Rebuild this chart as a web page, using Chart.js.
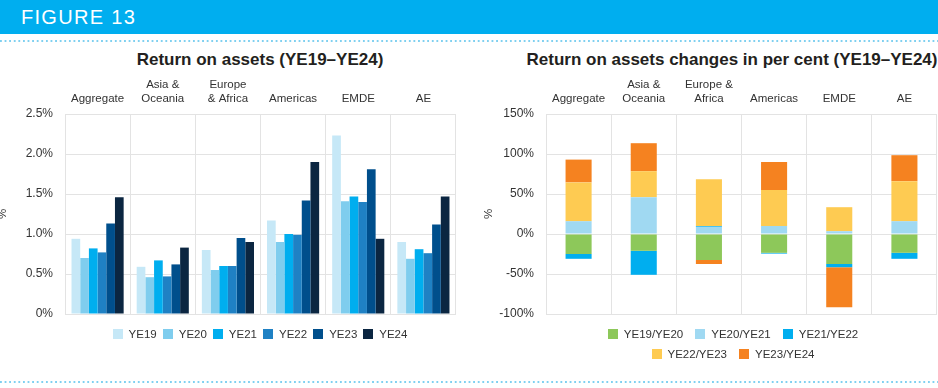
<!DOCTYPE html>
<html>
<head>
<meta charset="utf-8">
<script src="https://cdn.jsdelivr.net/npm/chart.js@4"></script>
<style>
  body { margin: 0; width: 938px; height: 388px; background: #fff; font-family: "Liberation Sans", Arial, sans-serif; position: relative; overflow: hidden; }
  .band { position: absolute; left: 0; top: 0; width: 938px; height: 34px; background: #00aeef; }
  .band span { position: absolute; left: 21px; top: 6px; color: #fff; font-size: 20px; letter-spacing: 1.3px; }
  .dots { position: absolute; left: 0; width: 938px; height: 2px;
    background-image: linear-gradient(to right, #7fd0f0 0 2px, transparent 2px);
    background-size: 4.6px 2px; }
  .title { position: absolute; top: 50px; font-size: 17px; font-weight: bold; color: #231f20; white-space: nowrap; transform: translateX(-50%); }
  canvas { position: absolute; }
  .legend { position: absolute; text-align: center; font-size: 11.5px; color: #333; }
  .legend div { height: 20px; }
  .item { display: inline-block; white-space: nowrap; line-height: 12px; }
  .item i { display: inline-block; width: 10px; height: 10px; vertical-align: -1px; margin-right: 6px; }
</style>
</head>
<body>
<div class="band"><span>FIGURE 13</span></div>
<div class="dots" style="top:40px"></div>
<div class="dots" style="top:381px"></div>
<div class="title" style="left:260px">Return on assets (YE19–YE24)</div>
<div class="title" style="left:732px">Return on assets changes in per cent (YE19–YE24)</div>
<canvas id="roaChart" width="470" height="300" style="left:0;top:40px"></canvas>
<canvas id="changeChart" width="468" height="300" style="left:470px;top:40px"></canvas>
<div class="legend" id="roaLegend" style="left:0;top:328px;width:520px"></div>
<div class="legend" id="changeLegend" style="left:528px;top:328px;width:410px"></div>
<script>
// 地域(左)
const roaRegions = ['Aggregate', ['Asia &', 'Oceania'], ['Europe', '& Africa'], 'Americas', 'EMDE', 'AE'];
// 地域(右)
const changeRegions = ['Aggregate', ['Asia &', 'Oceania'], ['Europe &', 'Africa'], 'Americas', 'EMDE', 'AE'];

// 総資産利益率 (%)
const years = ['YE19', 'YE20', 'YE21', 'YE22', 'YE23', 'YE24'];
const ye19 = [0.94, 0.59, 0.80, 1.17, 2.23, 0.90];
const ye20 = [0.70, 0.46, 0.55, 0.90, 1.41, 0.69];
const ye21 = [0.82, 0.67, 0.60, 1.00, 1.47, 0.81];
const ye22 = [0.77, 0.47, 0.60, 0.99, 1.40, 0.76];
const ye23 = [1.13, 0.62, 0.95, 1.42, 1.81, 1.12];
const ye24 = [1.46, 0.83, 0.90, 1.90, 0.94, 1.47];
const roaColors = ['#c6e8f7', '#7fcdee', '#00aeef', '#1f81c4', '#004f8c', '#0b2641'];

// 変化率 (%)
const periods = ['YE19/YE20', 'YE20/YE21', 'YE21/YE22', 'YE22/YE23', 'YE23/YE24'];
const ch1920 = [-25, -21, -32.5, -23.5, -37.5, -23.5];
const ch2021 = [16, 46, 9, 10, 3.5, 16];
const ch2122 = [-6, -30, 1, -1, -4, -7.5];
const ch2223 = [48.5, 32.5, 58.5, 45, 30, 50];
const ch2324 = [28.5, 35, -5, 35, -50, 32.5];
const changeColors = ['#8dc85a', '#a0d9f2', '#00aeef', '#fecb52', '#f58220'];

// 目盛
const roaTicks = { min: 0, max: 2.5, step: 0.5 };
const changeTicks = { min: -100, max: 150, step: 50 };

const textColor = '#333';
const gridColor = '#e3e3e3';

function xAxis() {
  return {
    position: 'top',
    grid: { color: gridColor, drawTicks: false, offset: true },
    border: { display: false },
    ticks: { color: textColor, font: { size: 11.5, lineHeight: 1.15 }, padding: 9, maxRotation: 0, autoSkip: false },
    afterFit: s => { s.height = 74; }
  };
}

function yAxis(t, width, titlePad, fmt) {
  return {
    min: t.min,
    max: t.max,
    ticks: { stepSize: t.step, color: textColor, font: { size: 12 }, padding: 12, callback: fmt },
    grid: { color: gridColor, drawTicks: false },
    border: { display: false },
    title: { display: true, text: '%', color: textColor, font: { size: 11.5 }, padding: { top: titlePad, bottom: 0 } },
    afterFit: s => { s.width = width; }
  };
}

function makeLegend(el, labels, colors, gap, rows) {
  rows.forEach(row => {
    const line = document.createElement('div');
    row.forEach((idx, n) => {
      const item = document.createElement('span');
      item.className = 'item';
      if (n > 0) item.style.marginLeft = gap + 'px';
      item.innerHTML = `<i style="background:${colors[idx]}"></i>${labels[idx]}`;
      line.appendChild(item);
    });
    el.appendChild(line);
  });
}

const roaSeries = [ye19, ye20, ye21, ye22, ye23, ye24];
new Chart(document.getElementById('roaChart'), {
  type: 'bar',
  data: {
    labels: roaRegions,
    datasets: roaSeries.map((d, i) => ({
      label: years[i],
      data: d,
      backgroundColor: roaColors[i],
      categoryPercentage: 0.8,
      barPercentage: 1.0
    }))
  },
  options: {
    responsive: false,
    animation: false,
    layout: { padding: { left: 0, right: 14, top: 0, bottom: 26 } },
    plugins: { legend: { display: false }, tooltip: { enabled: false } },
    scales: {
      x: xAxis(),
      y: yAxis(roaTicks, 65, -4, v => v === 0 ? '0%' : v.toFixed(1) + '%')
    }
  }
});

const changeSeries = [ch1920, ch2021, ch2122, ch2223, ch2324];
new Chart(document.getElementById('changeChart'), {
  type: 'bar',
  data: {
    labels: changeRegions,
    datasets: changeSeries.map((d, i) => ({
      label: periods[i],
      data: d,
      backgroundColor: changeColors[i],
      categoryPercentage: 1.0,
      barPercentage: 0.4
    }))
  },
  options: {
    responsive: false,
    animation: false,
    layout: { padding: { left: 0, right: 1, top: 0, bottom: 26 } },
    plugins: { legend: { display: false }, tooltip: { enabled: false } },
    scales: {
      x: Object.assign(xAxis(), { stacked: true }),
      y: Object.assign(yAxis(changeTicks, 76, 12, v => v + '%'), { stacked: true })
    }
  }
});

makeLegend(document.getElementById('roaLegend'), years, roaColors, 6, [[0, 1, 2, 3, 4, 5]]);
makeLegend(document.getElementById('changeLegend'), periods, changeColors, 12, [[0, 1, 2], [3, 4]]);
</script>
</body>
</html>
